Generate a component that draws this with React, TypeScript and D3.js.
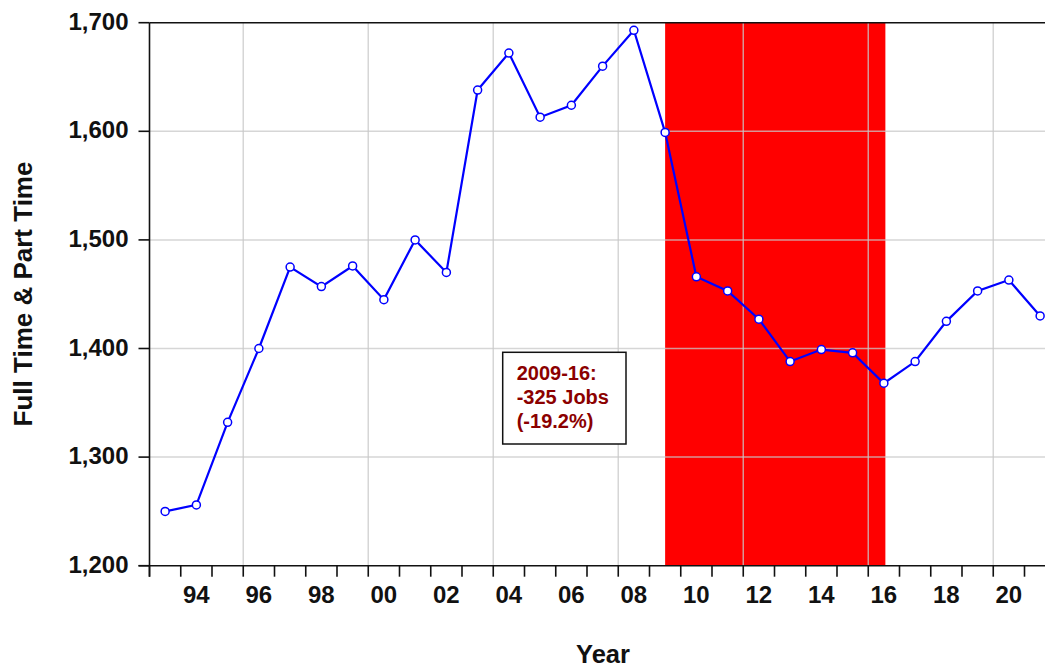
import React from "react";
import * as d3 from "d3";

const years: number[] = [1993,1994,1995,1996,1997,1998,1999,2000,2001,2002,2003,2004,2005,2006,2007,2008,2009,2010,2011,2012,2013,2014,2015,2016,2017,2018,2019,2020,2021];
const jobs: number[] = [1250,1256,1332,1400,1475,1457,1476,1445,1500,1470,1638,1672,1613,1624,1660,1693,1599,1466,1453,1427,1388,1399,1396,1368,1388,1425,1453,1463,1430];
const yTicks: number[] = [1200,1300,1400,1500,1600,1700];
const xLabelYears: number[] = [1994,1996,1998,2000,2002,2004,2006,2008,2010,2012,2014,2016,2018,2020];
const gridYears: number[] = [1996,2000,2004,2008,2012,2016,2020];
const shadeStart = 2009;
const shadeEnd = 2016;
const noteLines: string[] = ["2009-16:", "-325 Jobs", "(-19.2%)"];
const yTitle = "Full Time & Part Time";
const xTitle = "Year";

const W = 1045, H = 666;
const FONT = "'Liberation Sans', Arial, sans-serif";

export default function App() {
  const x = d3.scaleLinear().domain([1993, 2022]).range([149.5, 149.5 + 29 * 31.25]);
  const y = d3.scaleLinear().domain([1200, 1700]).range([565.7, 22.7]);
  const px = (yr: number) => x(yr + 0.5);
  const line = d3.line<number>().x((_, i) => px(years[i])).y((d) => y(d));
  const tickYears = d3.range(1993, 2022);
  const left = x(1993);
  const top = y(1700);
  const bottom = y(1200);

  return (
    <div style={{ position: "absolute", left: 0, top: 0 }}>
      <svg width={W} height={H} style={{ display: "block", background: "#fff" }}>
        <rect x={0} y={0} width={W} height={H} fill="#fff" />
        <rect x={px(shadeStart)} y={top} width={px(shadeEnd) - px(shadeStart) + 1.5} height={bottom - top} fill="#ff0000" />
        <g stroke="#c8c8c8" strokeOpacity={0.75} strokeWidth={1.5}>
          {yTicks.filter((t) => t > 1200 && t < 1700).map((t) => (
            <line key={"gy" + t} x1={left} x2={W + 20} y1={y(t)} y2={y(t)} />
          ))}
          {gridYears.map((g) => (
            <line key={"gx" + g} x1={x(g)} x2={x(g)} y1={top} y2={bottom} />
          ))}
        </g>
        <g stroke="#111" strokeWidth={1.6}>
          <line x1={left} x2={W + 20} y1={top} y2={top} />
          <line x1={left} x2={left} y1={top} y2={bottom + 11} />
          <line x1={left - 11} x2={W + 20} y1={bottom} y2={bottom} />
          {yTicks.map((t) => (
            <line key={"ty" + t} x1={left - 11} x2={left} y1={y(t)} y2={y(t)} />
          ))}
          {tickYears.map((t) => (
            <line key={"tx" + t} x1={x(t)} x2={x(t)} y1={bottom} y2={bottom + 11} />
          ))}
        </g>
        <g fontFamily={FONT} fontWeight="bold" fontSize={24} fill="#111">
          {yTicks.map((t) => (
            <text key={"ly" + t} x={128.5} y={y(t) + 7} textAnchor="end">
              {d3.format(",")(t)}
            </text>
          ))}
          {xLabelYears.map((yr) => (
            <text key={"lx" + yr} x={px(yr)} y={603.3} textAnchor="middle">
              {String(yr % 100).padStart(2, "0")}
            </text>
          ))}
        </g>
        <text x={603} y={662.5} textAnchor="middle" fontFamily={FONT} fontWeight="bold" fontSize={25.5} fill="#111">
          {xTitle}
        </text>
        <text transform={`translate(31.7,294) rotate(-90)`} textAnchor="middle" fontFamily={FONT} fontWeight="bold" fontSize={26} fill="#111">
          {yTitle}
        </text>
        <path d={line(jobs) || ""} fill="none" stroke="#0000ff" strokeWidth={2.2} />
        {jobs.map((v, i) => (
          <circle key={"p" + i} cx={px(years[i])} cy={y(v)} r={4} fill="#fff" stroke="#0000ff" strokeWidth={1.5} />
        ))}
        <rect x={502.7} y={352.3} width={123.3} height={91.7} fill="#fff" stroke="#111" strokeWidth={1.5} />
        <g fontFamily={FONT} fontWeight="bold" fontSize={20} fill="#8b0000">
          {noteLines.map((s, i) => (
            <text key={"n" + i} x={516.7} y={380 + i * 23.8}>
              {s}
            </text>
          ))}
        </g>
      </svg>
    </div>
  );
}
